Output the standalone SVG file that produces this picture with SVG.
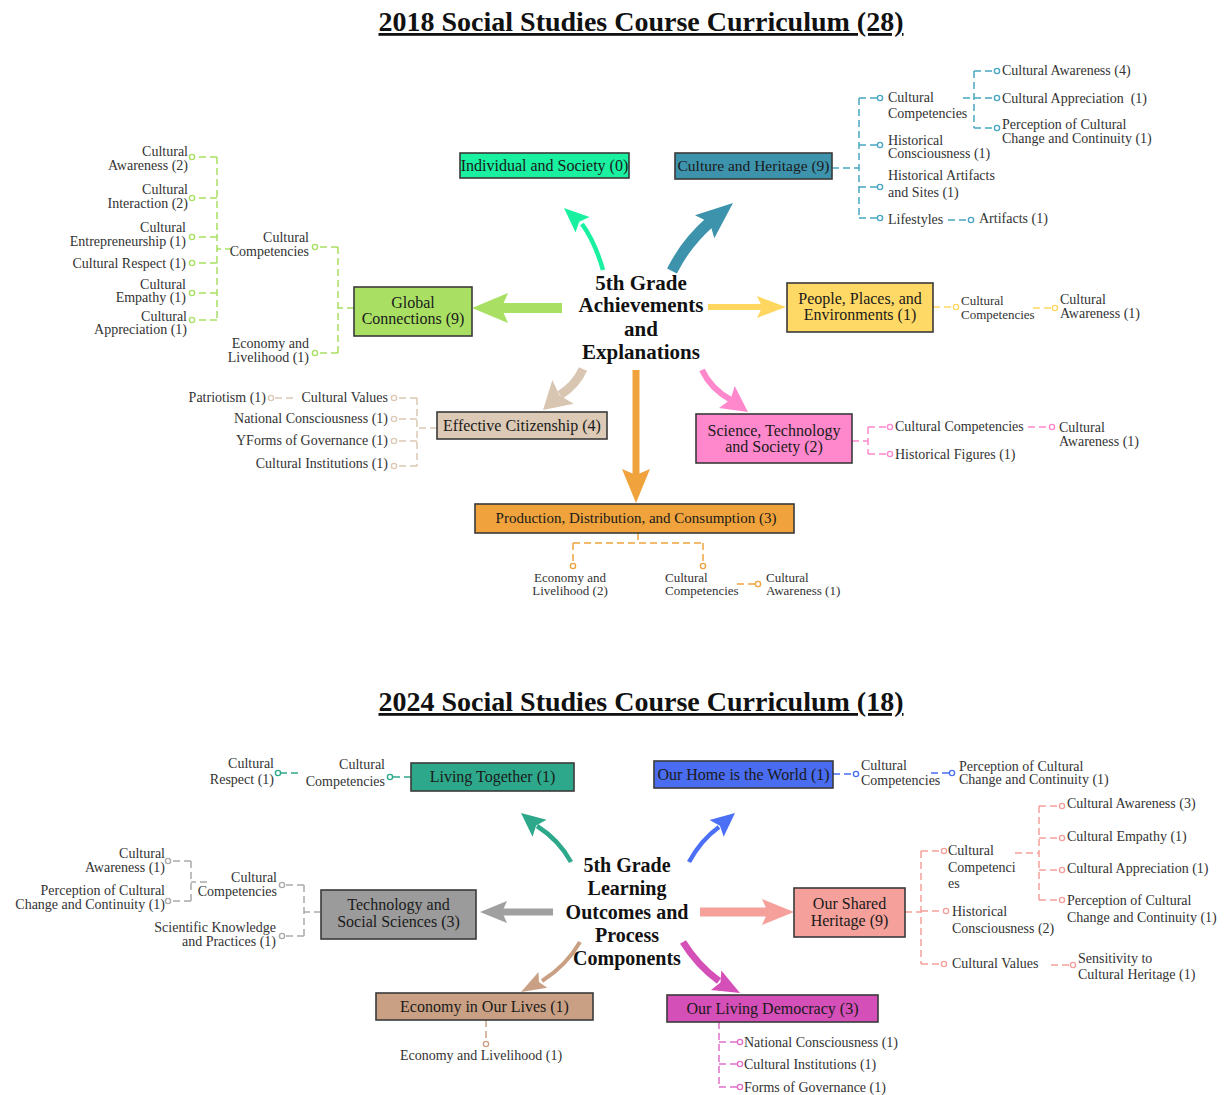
<svg xmlns="http://www.w3.org/2000/svg" xmlns:xlink="http://www.w3.org/1999/xlink" width="1228" height="1095" viewBox="0 0 1228 1095">
<defs>
<style>
text{font-family:"Liberation Serif","Times New Roman",serif;fill:#333}
.l{font-size:14px}
.s{font-size:13px}
.e{text-anchor:end}
.m{text-anchor:middle}
.bt{font-size:16px;fill:#1a1a1a;text-anchor:middle}
.ctr{font-size:21px;font-weight:bold;fill:#111;text-anchor:middle}
.ttl{font-size:28px;font-weight:bold;fill:#111;text-anchor:middle;text-decoration:underline}
.box{stroke:#3a3a3a;stroke-width:1.6}
.d{fill:none;stroke-width:1.5;stroke-dasharray:7 4}
.dot{fill:#fff;stroke-width:1.4}
.sh{fill:none;stroke-linecap:butt}
</style>
<path id="ah" d="M0,0 L-1,-0.5 L-0.82,0 L-1,0.5 Z"/>
</defs>
<rect width="1228" height="1095" fill="#fff"/>

<g id="titles">
<text class="ttl" x="641" y="31">2018 Social Studies Course Curriculum (28)</text>
<text class="ttl" x="641" y="711">2024 Social Studies Course Curriculum (18)</text>
</g>

<g id="connectors">
<!-- 2018 arrows -->
<path class="sh" d="M603,270 Q595,242 582,224" stroke="#19F0A0" stroke-width="4.5"/>
<use href="#ah" transform="translate(564,208) rotate(222) scale(25,21)" fill="#19F0A0"/>
<path class="sh" d="M672,271 Q686,243 710,222" stroke="#3E93AC" stroke-width="11"/>
<use href="#ah" transform="translate(733,203) rotate(-40) scale(37,30)" fill="#3E93AC"/>
<path class="sh" d="M562,308 L500,308" stroke="#A9E063" stroke-width="10"/>
<use href="#ah" transform="translate(472,308) rotate(180) scale(36,30)" fill="#A9E063"/>
<path class="sh" d="M708,307 L762,307" stroke="#FFD760" stroke-width="6"/>
<use href="#ah" transform="translate(786,307) rotate(0) scale(29,22)" fill="#FFD760"/>
<path class="sh" d="M583,369 Q576,385 560,395" stroke="#D9C6B2" stroke-width="9"/>
<use href="#ah" transform="translate(543,410) rotate(138) scale(27,32)" fill="#D9C6B2"/>
<path class="sh" d="M636,370 L636,476" stroke="#F0A33C" stroke-width="7"/>
<use href="#ah" transform="translate(636,503) rotate(90) scale(34,28)" fill="#F0A33C"/>
<path class="sh" d="M702,370 Q711,389 731,400" stroke="#FF88CC" stroke-width="6"/>
<use href="#ah" transform="translate(748,412) rotate(35.5) scale(26,27)" fill="#FF88CC"/>

<!-- 2018 Global Connections -->
<g stroke="#A9E063">
<path class="d" d="M354,308 H338 M338,247 V353 M338,247 H318 M338,353 H318 M232,249 H217 M217,157 V320 M217,157 H195 M217,198 H195 M217,237 H195 M217,263 H195 M217,293 H195 M217,320 H195"/>
<circle class="dot" cx="315" cy="247" r="2.6"/><circle class="dot" cx="315" cy="353" r="2.6"/>
<circle class="dot" cx="192" cy="157" r="2.6"/><circle class="dot" cx="192" cy="198" r="2.6"/><circle class="dot" cx="192" cy="237" r="2.6"/>
<circle class="dot" cx="192" cy="263" r="2.6"/><circle class="dot" cx="192" cy="293" r="2.6"/><circle class="dot" cx="192" cy="320" r="2.6"/>
</g>
<!-- 2018 Culture and Heritage -->
<g stroke="#4AA6C2">
<path class="d" d="M832,168 H859 M859,98 V218 M859,98 H877 M859,145 H877 M859,187 H877 M859,218 H877 M948,220 H968 M963,98 H974 M974,71 V128 M974,71 H994 M974,98 H994 M974,128 H994"/>
<circle class="dot" cx="880" cy="98" r="2.6"/><circle class="dot" cx="880" cy="145" r="2.6"/><circle class="dot" cx="880" cy="187" r="2.6"/><circle class="dot" cx="880" cy="218" r="2.6"/>
<circle class="dot" cx="971" cy="220" r="2.6"/>
<circle class="dot" cx="997" cy="71" r="2.6"/><circle class="dot" cx="997" cy="98" r="2.6"/><circle class="dot" cx="997" cy="128" r="2.6"/>
</g>
<!-- 2018 People -->
<g stroke="#FFD760">
<path class="d" d="M933,307 H953 M1033,308 H1052"/>
<circle class="dot" cx="956" cy="307" r="2.6"/><circle class="dot" cx="1055" cy="308" r="2.6"/>
</g>
<!-- 2018 Science -->
<g stroke="#FF88CC">
<path class="d" d="M852,441 H868 M868,427 V454 M868,427 H887 M868,454 H887 M1028,427 H1049"/>
<circle class="dot" cx="890" cy="427" r="2.6"/><circle class="dot" cx="890" cy="454" r="2.6"/><circle class="dot" cx="1052" cy="427" r="2.6"/>
</g>
<!-- 2018 Effective Citizenship -->
<g stroke="#DCC9B5">
<path class="d" d="M437,428 H417 M417,398 V466 M417,398 H397 M417,419 H397 M417,441 H397 M417,466 H397 M293,398 H274"/>
<circle class="dot" cx="394" cy="398" r="2.6"/><circle class="dot" cx="394" cy="419" r="2.6"/><circle class="dot" cx="394" cy="441" r="2.6"/><circle class="dot" cx="394" cy="466" r="2.6"/>
<circle class="dot" cx="271" cy="398" r="2.6"/>
</g>
<!-- 2018 Production -->
<g stroke="#F0A33C">
<path class="d" d="M638,533 V543 M573,543 H703 M573,543 V563 M703,543 V563 M737,584 H755"/>
<circle class="dot" cx="573" cy="566" r="2.6"/><circle class="dot" cx="703" cy="566" r="2.6"/><circle class="dot" cx="758" cy="584" r="2.6"/>
</g>

<!-- 2024 arrows -->
<path class="sh" d="M571,862 Q559,840 537,826" stroke="#2EA88A" stroke-width="4.5"/>
<use href="#ah" transform="translate(521,813) rotate(219.5) scale(24,22)" fill="#2EA88A"/>
<path class="sh" d="M689,862 Q701,840 719,827" stroke="#4B6FF5" stroke-width="4.5"/>
<use href="#ah" transform="translate(735,813) rotate(-40) scale(24,22)" fill="#4B6FF5"/>
<path class="sh" d="M553,912 L500,912" stroke="#A0A0A0" stroke-width="7"/>
<use href="#ah" transform="translate(480,912) rotate(180) scale(27,22)" fill="#A0A0A0"/>
<path class="sh" d="M700,912 L770,912" stroke="#F5A09B" stroke-width="9"/>
<use href="#ah" transform="translate(794,912) rotate(0) scale(32,26)" fill="#F5A09B"/>
<path class="sh" d="M580,942 Q566,966 542,981" stroke="#C9A084" stroke-width="4"/>
<use href="#ah" transform="translate(521,992) rotate(151) scale(25,18)" fill="#C9A084"/>
<path class="sh" d="M683,942 Q698,966 719,981" stroke="#D54FB8" stroke-width="7"/>
<use href="#ah" transform="translate(740,993) rotate(28) scale(27,22)" fill="#D54FB8"/>

<!-- 2024 Living Together -->
<g stroke="#2EA88A">
<path class="d" d="M411,777 H393 M298,773 H281"/>
<circle class="dot" cx="390" cy="777" r="2.6"/><circle class="dot" cx="278" cy="773" r="2.6"/>
</g>
<!-- 2024 Our Home -->
<g stroke="#4B6FF5">
<path class="d" d="M833,774 H853 M931,773 H949"/>
<circle class="dot" cx="856" cy="774" r="2.6"/><circle class="dot" cx="952" cy="773" r="2.6"/>
</g>
<!-- 2024 Tech -->
<g stroke="#AAAAAA">
<path class="d" d="M321,912 H304 M304,885 V936 M304,885 H285 M304,936 H285 M207,882 H191 M191,861 V901 M191,861 H171 M191,901 H171"/>
<circle class="dot" cx="282" cy="885" r="2.6"/><circle class="dot" cx="282" cy="936" r="2.6"/>
<circle class="dot" cx="168" cy="861" r="2.6"/><circle class="dot" cx="168" cy="901" r="2.6"/>
</g>
<!-- 2024 Shared Heritage -->
<g stroke="#F5A09B">
<path class="d" d="M905,912 H921 M921,851 V964 M921,851 H941 M921,911 H943 M921,964 H941 M1015,853 H1039 M1039,806 V900 M1039,806 H1059 M1039,838 H1059 M1039,870 H1059 M1039,900 H1059 M1051,965 H1070"/>
<circle class="dot" cx="944" cy="851" r="2.6"/><circle class="dot" cx="946" cy="911" r="2.6"/><circle class="dot" cx="944" cy="964" r="2.6"/>
<circle class="dot" cx="1062" cy="806" r="2.6"/><circle class="dot" cx="1062" cy="838" r="2.6"/><circle class="dot" cx="1062" cy="870" r="2.6"/><circle class="dot" cx="1062" cy="900" r="2.6"/>
<circle class="dot" cx="1073" cy="965" r="2.6"/>
</g>
<!-- 2024 Economy -->
<g stroke="#C9A084">
<path class="d" d="M486,1020 V1041"/>
<circle class="dot" cx="486" cy="1044" r="2.6"/>
</g>
<!-- 2024 Democracy -->
<g stroke="#E070C8">
<path class="d" d="M719,1022 V1088 M719,1042 H737 M719,1064 H737 M719,1087 H737"/>
<circle class="dot" cx="740" cy="1042" r="2.6"/><circle class="dot" cx="740" cy="1064" r="2.6"/><circle class="dot" cx="740" cy="1087" r="2.6"/>
</g>
</g>

<!-- ===== 2018 nodes ===== -->
<g id="center-2018">
<text class="ctr" x="641" y="290">5th Grade</text>
<text class="ctr" x="641" y="312">Achievements</text>
<text class="ctr" x="641" y="336">and</text>
<text class="ctr" x="641" y="359">Explanations</text>
</g>
<g id="individual-society">
<rect class="box" x="460" y="153" width="169" height="25" fill="#19F0A0"/>
<text class="bt" x="544.5" y="171">Individual and Society (0)</text>
</g>
<g id="culture-heritage">
<rect class="box" x="675" y="153" width="157" height="26" fill="#3E93AC"/>
<text class="bt" x="753.5" y="171" style="font-size:15.5px">Culture and Heritage (9)</text>
</g>
<g id="global-connections">
<rect class="box" x="354" y="287" width="118" height="49" fill="#A9E063"/>
<text class="bt" x="413" y="308">Global</text>
<text class="bt" x="413" y="324">Connections (9)</text>
</g>
<g id="people-places">
<rect class="box" x="787" y="283" width="146" height="49" fill="#FFD966"/>
<text class="bt" x="860" y="304">People, Places, and</text>
<text class="bt" x="860" y="320">Environments (1)</text>
</g>
<g id="effective-citizenship">
<rect class="box" x="437" y="412" width="170" height="27" fill="#DCCAB6"/>
<text class="bt" x="522" y="431">Effective Citizenship (4)</text>
</g>
<g id="science-technology">
<rect class="box" x="696" y="414" width="156" height="49" fill="#FF88CC"/>
<text class="bt" x="774" y="436">Science, Technology</text>
<text class="bt" x="774" y="452">and Society (2)</text>
</g>
<g id="production">
<rect class="box" x="475" y="504" width="319" height="29" fill="#F0A33C"/>
<text class="bt" x="636" y="523" style="font-size:15px">Production, Distribution, and Consumption (3)</text>
</g>

<g id="gc-leaves">
<g id="gc-cc"><text class="l e" x="309" y="242">Cultural</text><text class="l e" x="309" y="256">Competencies</text></g>
<g id="gc-el"><text class="l e" x="309" y="348">Economy and</text><text class="l e" x="309" y="362">Livelihood (1)</text></g>
<g id="gc-ca"><text class="l e" x="188" y="156">Cultural</text><text class="l e" x="188" y="170">Awareness (2)</text></g>
<g id="gc-ci"><text class="l e" x="188" y="194">Cultural</text><text class="l e" x="188" y="208">Interaction (2)</text></g>
<g id="gc-ce"><text class="l e" x="186" y="232">Cultural</text><text class="l e" x="186" y="246">Entrepreneurship (1)</text></g>
<g id="gc-cr"><text class="l e" x="186" y="268">Cultural Respect (1)</text></g>
<g id="gc-cem"><text class="l e" x="186" y="289">Cultural</text><text class="l e" x="186" y="302">Empathy (1)</text></g>
<g id="gc-cap"><text class="l e" x="187" y="321">Cultural</text><text class="l e" x="187" y="334">Appreciation (1)</text></g>
</g>
<g id="ch-leaves">
<g id="ch-cc"><text class="l" x="888" y="102">Cultural</text><text class="l" x="888" y="118">Competencies</text></g>
<g id="ch-hc"><text class="l" x="888" y="145">Historical</text><text class="l" x="888" y="158">Consciousness (1)</text></g>
<g id="ch-ha"><text class="l" x="888" y="180">Historical Artifacts</text><text class="l" x="888" y="197">and Sites (1)</text></g>
<g id="ch-ls"><text class="l" x="888" y="224">Lifestyles</text></g>
<g id="ch-ar"><text class="l" x="979" y="223">Artifacts (1)</text></g>
<g id="ch-ca"><text class="l" x="1002" y="75">Cultural Awareness (4)</text></g>
<g id="ch-cap"><text class="l" x="1002" y="103" xml:space="preserve">Cultural Appreciation  (1)</text></g>
<g id="ch-pc"><text class="l" x="1002" y="129">Perception of Cultural</text><text class="l" x="1002" y="143">Change and Continuity (1)</text></g>
</g>
<g id="pp-leaves">
<g id="pp-cc"><text class="s" x="961" y="305">Cultural</text><text class="s" x="961" y="319">Competencies</text></g>
<g id="pp-ca"><text class="l" x="1060" y="304">Cultural</text><text class="l" x="1060" y="318">Awareness (1)</text></g>
</g>
<g id="st-leaves">
<g id="st-cc"><text class="l" x="895" y="431">Cultural Competencies</text></g>
<g id="st-hf"><text class="l" x="895" y="459">Historical Figures (1)</text></g>
<g id="st-ca"><text class="l" x="1059" y="432">Cultural</text><text class="l" x="1059" y="446">Awareness (1)</text></g>
</g>
<g id="ec-leaves">
<g id="ec-cv"><text class="l e" x="388" y="402">Cultural Values</text></g>
<g id="ec-pa"><text class="l e" x="266" y="402">Patriotism (1)</text></g>
<g id="ec-nc"><text class="l e" x="388" y="423">National Consciousness (1)</text></g>
<g id="ec-fg"><text class="l e" x="388" y="445">YForms of Governance (1)</text></g>
<g id="ec-ci"><text class="l e" x="388" y="468">Cultural Institutions (1)</text></g>
</g>
<g id="pd-leaves">
<g id="pd-el"><text class="s m" x="570" y="582">Economy and</text><text class="s m" x="570" y="595">Livelihood (2)</text></g>
<g id="pd-cc"><text class="s" x="665" y="582">Cultural</text><text class="s" x="665" y="595">Competencies</text></g>
<g id="pd-ca"><text class="s" x="766" y="582">Cultural</text><text class="s" x="766" y="595">Awareness (1)</text></g>
</g>

<!-- ===== 2024 nodes ===== -->
<g id="center-2024">
<text class="ctr" x="627" y="872" style="font-size:20px">5th Grade</text>
<text class="ctr" x="627" y="895" style="font-size:20px">Learning</text>
<text class="ctr" x="627" y="919" style="font-size:20px">Outcomes and</text>
<text class="ctr" x="627" y="942" style="font-size:20px">Process</text>
<text class="ctr" x="627" y="965" style="font-size:20px">Components</text>
</g>
<g id="living-together">
<rect class="box" x="411" y="763" width="163" height="28" fill="#2EA88A"/>
<text class="bt" x="492.5" y="782">Living Together (1)</text>
</g>
<g id="our-home">
<rect class="box" x="654" y="761" width="179" height="27" fill="#4A6CF0"/>
<text class="bt" x="743.5" y="780">Our Home is the World (1)</text>
</g>
<g id="tech-social">
<rect class="box" x="321" y="890" width="155" height="49" fill="#9B9B9B"/>
<text class="bt" x="398.5" y="910">Technology and</text>
<text class="bt" x="398.5" y="927">Social Sciences (3)</text>
</g>
<g id="shared-heritage">
<rect class="box" x="794" y="888" width="111" height="49" fill="#F5A09B"/>
<text class="bt" x="849.5" y="909">Our Shared</text>
<text class="bt" x="849.5" y="926">Heritage (9)</text>
</g>
<g id="economy-lives">
<rect class="box" x="376" y="993" width="217" height="27" fill="#C9A084"/>
<text class="bt" x="484.5" y="1012">Economy in Our Lives (1)</text>
</g>
<g id="living-democracy">
<rect class="box" x="667" y="995" width="211" height="27" fill="#D54FB8"/>
<text class="bt" x="772.5" y="1014">Our Living Democracy (3)</text>
</g>

<g id="lt-leaves">
<g id="lt-cc"><text class="l e" x="385" y="769">Cultural</text><text class="l e" x="385" y="786">Competencies</text></g>
<g id="lt-cr"><text class="l e" x="274" y="768">Cultural</text><text class="l e" x="274" y="784">Respect (1)</text></g>
</g>
<g id="oh-leaves">
<g id="oh-cc"><text class="l" x="861" y="770">Cultural</text><text class="l" x="861" y="785">Competencies</text></g>
<g id="oh-pc"><text class="l" x="959" y="771">Perception of Cultural</text><text class="l" x="959" y="784">Change and Continuity (1)</text></g>
</g>
<g id="ts-leaves">
<g id="ts-cc"><text class="l e" x="277" y="882">Cultural</text><text class="l e" x="277" y="896">Competencies</text></g>
<g id="ts-sk"><text class="l e" x="276" y="932">Scientific Knowledge</text><text class="l e" x="276" y="946">and Practices (1)</text></g>
<g id="ts-ca"><text class="l e" x="165" y="858">Cultural</text><text class="l e" x="165" y="872">Awareness (1)</text></g>
<g id="ts-pc"><text class="l e" x="165" y="895">Perception of Cultural</text><text class="l e" x="165" y="909">Change and Continuity (1)</text></g>
</g>
<g id="sh-leaves">
<g id="sh-cc"><text class="l" x="948" y="855">Cultural</text><text class="l" x="948" y="872">Competenci</text><text class="l" x="948" y="888">es</text></g>
<g id="sh-hc"><text class="l" x="952" y="916">Historical</text><text class="l" x="952" y="933">Consciousness (2)</text></g>
<g id="sh-cv"><text class="l" x="952" y="968">Cultural Values</text></g>
<g id="sh-ca"><text class="l" x="1067" y="808">Cultural Awareness (3)</text></g>
<g id="sh-ce"><text class="l" x="1067" y="841">Cultural Empathy (1)</text></g>
<g id="sh-cap"><text class="l" x="1067" y="873">Cultural Appreciation (1)</text></g>
<g id="sh-pc"><text class="l" x="1067" y="905">Perception of Cultural</text><text class="l" x="1067" y="922">Change and Continuity (1)</text></g>
<g id="sh-st"><text class="l" x="1078" y="963">Sensitivity to</text><text class="l" x="1078" y="979">Cultural Heritage (1)</text></g>
</g>
<g id="el-leaves">
<g id="el-el"><text class="l m" x="481" y="1060">Economy and Livelihood (1)</text></g>
</g>
<g id="ld-leaves">
<g id="ld-nc"><text class="l" x="744" y="1047">National Consciousness (1)</text></g>
<g id="ld-ci"><text class="l" x="744" y="1069">Cultural Institutions (1)</text></g>
<g id="ld-fg"><text class="l" x="744" y="1092">Forms of Governance (1)</text></g>
</g>
</svg>
